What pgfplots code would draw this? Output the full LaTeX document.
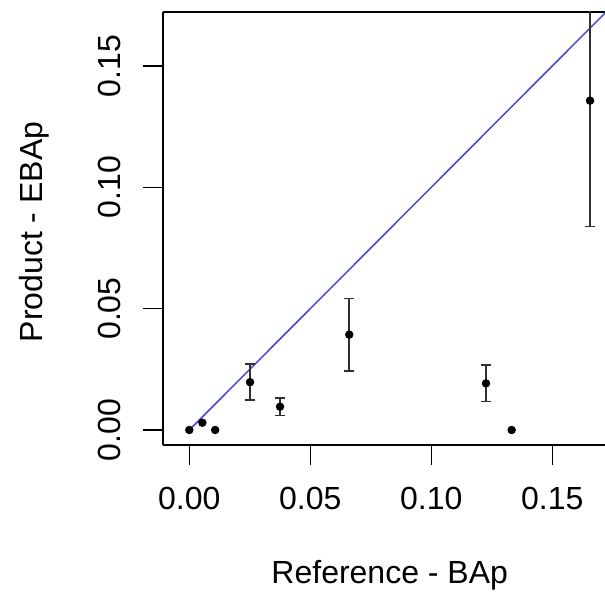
\documentclass[border=0pt]{standalone}
\usepackage{fontspec}
\setmainfont{Liberation Sans}
\usepackage{pgfplots}
\pgfplotsset{compat=1.18}
\definecolor{ablinecol}{HTML}{4646D2}
\definecolor{barcol}{HTML}{303030}

\begin{document}
\begin{tikzpicture}
\begin{axis}[
    scale only axis,
    width=221pt,
    height=216.5pt,
    xmin=-0.01087, xmax=0.17178,
    ymin=-0.00618, ymax=0.17223,
    axis x line*=box,
    axis y line*=left,
    axis line style={black, line width=0.6pt},
    xtick={0,0.05,0.1,0.15},
    ytick={0,0.05,0.1,0.15},
    xticklabels={0.00,0.05,0.10,0.15},
    yticklabels={0.00,0.05,0.10,0.15},
    xtick pos=lower,
    ytick pos=left,
    tick align=outside,
    major tick length=10pt,
    tick style={black, line width=0.6pt},
    tick label style={font=\fontsize{16}{19}\selectfont},
    xticklabel style={yshift=-7.7pt},
    yticklabel style={xshift=-7.5pt, rotate=90, anchor=south},
    xlabel={Reference - BAp},
    ylabel={Product - EBAp},
    every axis x label/.style={at={(rel axis cs:0.513,0)}, anchor=center,
        yshift=-65pt, font=\fontsize{16}{19}\selectfont},
    every axis y label/.style={at={(rel axis cs:0,0.492)}, anchor=center,
        xshift=-64.5pt, rotate=90, font=\fontsize{16}{19}\selectfont},
    clip=true,
]
% y = x reference line
\addplot[ablinecol, line width=0.75pt] coordinates {(0,0) (0.18,0.18)};

% points without error bars
\addplot[only marks, mark=*, mark size=1.9pt, black] coordinates {
    (0,0) (0.0054,0.0030) (0.0107,0.0) (0.1332,0.0)
};

% points with symmetric error bars
\addplot[only marks, mark=*, mark size=1.9pt, black,
    error bars/.cd, y dir=both, y explicit,
    error bar style={barcol, line width=0.8pt},
    error mark options={rotate=90, mark size=2.6pt, barcol, line width=0.8pt}]
    coordinates {
    (0.0251,0.0197) +- (0,0.0074)
    (0.0375,0.0096) +- (0,0.0037)
    (0.0661,0.0393) +- (0,0.0149)
    (0.1226,0.0192) +- (0,0.0075)
    (0.1656,0.1357) +- (0,0.0519)
};

\coordinate (bl) at (rel axis cs:0,0);
\coordinate (tr) at (rel axis cs:1,1);
\end{axis}
\pgfresetboundingbox
\path[use as bounding box] ([xshift=-81.5pt, yshift=-75.5pt]bl) rectangle ([yshift=6pt]tr);
\end{tikzpicture}
\end{document}
